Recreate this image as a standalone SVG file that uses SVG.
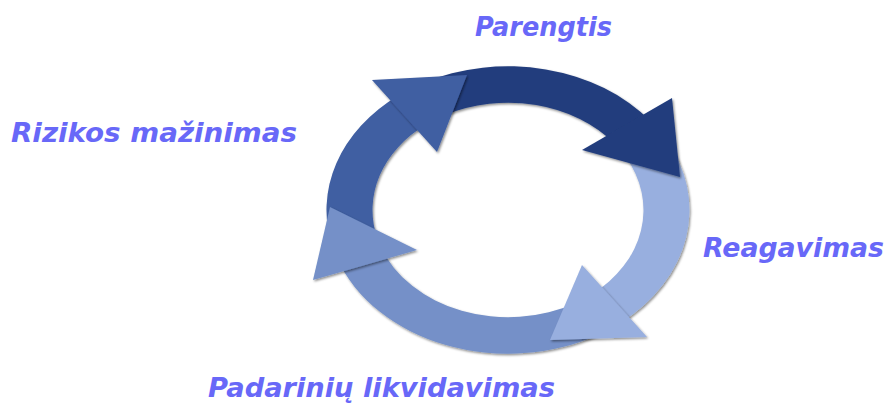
<svg xmlns="http://www.w3.org/2000/svg" width="888" height="405" viewBox="0 0 888 405">
<style>
.lbl{font-family:"DejaVu Sans","Verdana","Liberation Sans",sans-serif;font-weight:bold;font-style:italic;font-size:26px;fill:#6868F8}
.sh{filter:url(#ds)}
.c1{fill:#233E7D}
.c2{fill:#98AFDF}
.c3{fill:#7490C8}
.c4{fill:#3F5EA2}
</style>
<defs>
<filter id="ds" x="-10%" y="-10%" width="120%" height="120%">
<feDropShadow dx="1.2" dy="1.5" stdDeviation="1.3" flood-color="#000" flood-opacity="0.45"/>
</filter>
</defs>
<rect width="888" height="405" fill="#fff"/>
<g id="connectors">
<g id="shafts" class="sh">
<path class="c1" d="M422.8,83.1 A181.5,143.7 0 0 1 651,121.5 L614.8,143.9 A135.5,107.3 0 0 0 444.4,115.3 Z"/>
<path class="c2" d="M665.2,138.2 A181.5,143.7 0 0 1 619.7,323.2 L591.4,294.6 A135.5,107.3 0 0 0 625.3,156.35 Z"/>
<path class="c3" d="M598.75,334.4 A181.5,143.7 0 0 1 337.4,259.1 L380.7,246.7 A135.5,107.3 0 0 0 575.75,302.9 Z"/>
<path class="c4" d="M332.7,247.2 A181.5,143.7 0 0 1 398.8,95.2 L426.5,124.3 A135.5,107.3 0 0 0 377.1,237.8 Z"/>
</g>
<polygon class="c1 sh" points="672,98 680,177 582,150"/>
<polygon class="c2 sh" points="582,265 647,337 550,340"/>
<polygon class="c3 sh" points="417,250 313,280 330,207"/>
<polygon class="c4 sh" points="372,80 437,152 467,75"/>
</g>
<g id="node-parengtis"><text class="lbl" x="475" y="36" textLength="137" lengthAdjust="spacingAndGlyphs">Parengtis</text></g>
<g id="node-reagavimas"><text class="lbl" x="703" y="257" textLength="181" lengthAdjust="spacingAndGlyphs">Reagavimas</text></g>
<g id="node-padariniu"><text class="lbl" x="208" y="397" textLength="347" lengthAdjust="spacingAndGlyphs">Padarinių likvidavimas</text></g>
<g id="node-rizikos"><text class="lbl" x="11" y="142" textLength="286" lengthAdjust="spacingAndGlyphs">Rizikos mažinimas</text></g>
</svg>
